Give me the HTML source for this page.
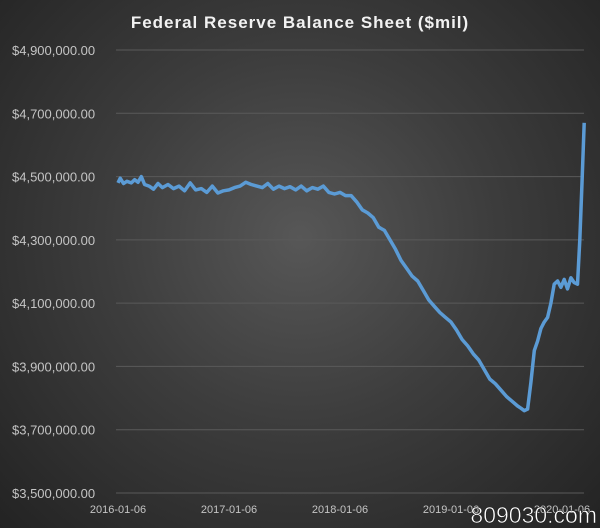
<!DOCTYPE html>
<html><head><meta charset="utf-8"><style>
html,body{margin:0;padding:0;}
body{width:600px;height:528px;overflow:hidden;background:#2a2a2a;}
#wrap{position:relative;width:600px;height:528px;background:radial-gradient(ellipse at 50% 45%,#575757 0%,#3d3d3d 45%,#232323 100%);}
svg{position:absolute;left:0;top:0;}
</style></head><body>
<div id="wrap">
<svg id="chart" width="600" height="528"></svg>
</div>
<script>
const yTicks=[3500000,3700000,3900000,4100000,4300000,4500000,4700000,4900000];
const xTickLabels=["2016-01-06","2017-01-06","2018-01-06","2019-01-06","2020-01-06"];
const xTickYears=[2016,2017,2018,2019,2020];
const dates=[2016.0,2016.02,2016.05,2016.08,2016.12,2016.15,2016.18,2016.21,2016.24,2016.28,2016.32,2016.36,2016.4,2016.45,2016.5,2016.55,2016.6,2016.65,2016.7,2016.75,2016.8,2016.85,2016.9,2016.95,2017.0,2017.05,2017.1,2017.15,2017.2,2017.25,2017.3,2017.35,2017.4,2017.45,2017.5,2017.55,2017.6,2017.65,2017.7,2017.75,2017.8,2017.85,2017.9,2017.95,2018.0,2018.05,2018.1,2018.15,2018.2,2018.25,2018.3,2018.35,2018.4,2018.45,2018.5,2018.55,2018.6,2018.65,2018.7,2018.75,2018.8,2018.85,2018.9,2018.95,2019.0,2019.05,2019.1,2019.15,2019.2,2019.25,2019.3,2019.35,2019.4,2019.45,2019.5,2019.55,2019.6,2019.63,2019.66,2019.69,2019.72,2019.75,2019.78,2019.81,2019.84,2019.87,2019.9,2019.93,2019.96,2019.99,2020.02,2020.05,2020.08,2020.11,2020.14,2020.16,2020.18,2020.2];
const values=[4480,4495,4478,4485,4480,4490,4482,4500,4475,4470,4460,4478,4465,4475,4462,4470,4455,4480,4458,4462,4450,4470,4448,4455,4458,4465,4470,4482,4475,4470,4465,4478,4460,4470,4462,4468,4458,4470,4455,4465,4460,4470,4450,4445,4450,4440,4440,4420,4395,4385,4370,4340,4330,4300,4270,4235,4210,4185,4170,4140,4110,4090,4070,4055,4040,4015,3985,3965,3940,3920,3890,3860,3845,3825,3805,3790,3775,3768,3760,3765,3850,3950,3980,4020,4040,4055,4100,4160,4170,4150,4175,4145,4180,4165,4160,4300,4480,4670];
const svg=document.getElementById('chart');
const NS='http://www.w3.org/2000/svg';
const x0=116,x1=584,yTop=50,yBot=493;
function xs(d){return 118+(d-2016)*111;}
function ys(v){return yBot-(v-3500000)/(4900000-3500000)*(yBot-yTop);}
function el(t,a){const e=document.createElementNS(NS,t);for(const k in a)e.setAttribute(k,a[k]);svg.appendChild(e);return e;}
const title=el('text',{x:300,y:28,'text-anchor':'middle',fill:'#f2f2f2','font-size':'17','font-weight':'bold','letter-spacing':'1','font-family':'Liberation Sans, sans-serif'});
title.textContent='Federal Reserve Balance Sheet ($mil)';


yTicks.forEach(v=>{
  const g=el('line',{x1:x0,x2:x1,y1:ys(v),y2:ys(v),stroke:'#5a5a5a','stroke-width':1});
  
  
  const t=el('text',{x:12,y:ys(v)+5,fill:'#c4c4c4','font-size':'13','font-family':'Liberation Sans, sans-serif'});
  t.textContent='$'+v.toLocaleString('en-US')+'.00';
  
  
});
xTickYears.forEach((yr,i)=>{
  const t=el('text',{x:xs(yr),y:513,'text-anchor':'middle',fill:'#c4c4c4','font-size':'11','font-family':'Liberation Sans, sans-serif'});
  t.textContent=xTickLabels[i];
  
  
});
const pts=dates.map((d,i)=>xs(d).toFixed(1)+','+ys(values[i]*1000).toFixed(1)).join(' ');
const line=el('polyline',{points:pts,fill:'none',stroke:'#5b9bd5','stroke-width':3.5,'stroke-linejoin':'round'});


const wm=el('text',{x:597,y:523,'text-anchor':'end',fill:'#ffffff',stroke:'#222','stroke-width':'0.6','font-size':'23','font-family':'Liberation Sans, sans-serif'});
wm.textContent='809030.com';


</script>
</body></html>
